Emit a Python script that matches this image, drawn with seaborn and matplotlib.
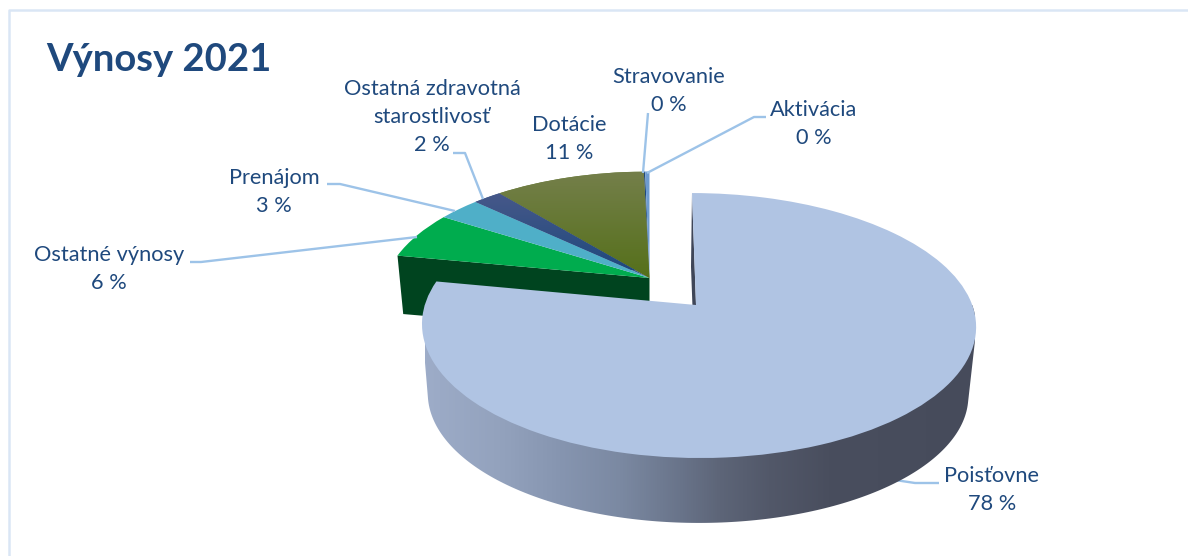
import numpy as np
import matplotlib
matplotlib.use("Agg")
import matplotlib.pyplot as plt
from matplotlib.colors import LinearSegmentedColormap
from matplotlib.patches import Polygon
from matplotlib.transforms import Transform
import seaborn as sns

# ---- data ----
categories = ["Poisťovne", "Ostatné výnosy", "Prenájom", "Ostatná zdravotná\nstarostlivosť",
              "Dotácie", "Stravovanie", "Aktivácia"]
values = [78.0, 6.0, 3.0, 2.0, 10.6, 0.1, 0.3]
percent_labels = ["78 %", "6 %", "3 %", "2 %", "11 %", "0 %", "0 %"]
title = "Výnosy 2021"
colors = ["#B0C4E3", "#00AC4E", "#4FAFC8", "#3A5A8E", "#677C35", "#1F497D", "#6D9BD0"]

# ---- layout ----
W, H = 1188, 556
label_pos = [(992, 490), (109, 269), (274, 192), (432, 117), (569, 139), (669, 91), (814, 124)]
leaders = [
    [(895, 480), (915, 483), (939, 483)],
    [(190, 262), (201, 262), (417, 237)],
    [(327, 184), (340, 184), (455, 211)],
    [(453, 153), (465, 153), (483, 199)],
    [(648, 113), (643, 173)],
    [(766, 117), (754, 117), (647, 173)],
]
wall_stops = [(425, "#9DACC8"), (500, "#93A2BD"), (560, "#8695B0"), (620, "#7B89A2"),
              (680, "#69748A"), (720, "#5D6578"), (770, "#525869"), (830, "#494E5E"),
              (975, "#464B5B")]


class Perspective(Transform):
    """Unit-circle pie coordinates -> pixel coordinates, with a foreshortened view."""
    input_dims = output_dims = 2
    is_separable = False
    has_inverse = False

    def __init__(self, x0, y0, a, b, p=0.155, k=0.0, s=0.0):
        super().__init__()
        self.par = (x0, y0, a, b, p, k, s)

    def transform_non_affine(self, xy):
        xy = np.asarray(xy, float)
        x0, y0, a, b, p, k, s = self.par
        u, v = xy[:, 0], xy[:, 1]
        w = 1 + p * v
        return np.column_stack([x0 + a * u / w + k * u ** 2 + s * v, y0 - b * v / w])


def rim(theta1, theta2, n=200):
    t = np.radians(np.linspace(theta1, theta2, n))
    return np.column_stack([np.cos(t), np.sin(t)])


def hull(points):
    pts = sorted(map(tuple, points))

    def half(seq):
        out = []
        for q in seq:
            while len(out) > 1 and ((out[-1][0] - out[-2][0]) * (q[1] - out[-2][1])
                                    - (out[-1][1] - out[-2][1]) * (q[0] - out[-2][0])) <= 0:
                out.pop()
            out.append(q)
        return out[:-1]

    return np.array(half(pts) + half(pts[::-1]))


sns.set_theme(style="white")
plt.rcParams["font.family"] = ["Lato", "DejaVu Sans"]

fig = plt.figure(figsize=(W / 100, H / 100), dpi=100, facecolor="white")
ax = fig.add_axes([0, 0, 1, 1])

wedges, _ = ax.pie(values, colors=colors, startangle=90, counterclock=False,
                   wedgeprops={"linewidth": 0})
ax.set_aspect("auto")
ax.axis("off")

big_top = Perspective(696, 305, 273.7, 129.3, k=2.5, s=-4)
big_low = Perspective(695, 375, 267, 125, k=2.5, s=-4)
small_top = Perspective(649.5, 278, 264, 123)
small_low = Perspective(649.5, 335, 258, 115)

for i, wd in enumerate(wedges):
    wd.set_transform((big_top if i == 0 else small_top) + ax.transData)
    wd.set_zorder(5)

# side wall of the large slice, shaded left to right
front = rim(-180, 0)
wall = Polygon(hull(np.vstack([big_top.transform(front), big_low.transform(front)])),
               closed=True, facecolor="none", edgecolor="none")
ax.add_patch(wall)
x_a, x_b = wall_stops[0][0], wall_stops[-1][0]
wall_cmap = LinearSegmentedColormap.from_list(
    "wall", [((x - x_a) / (x_b - x_a), c) for x, c in wall_stops])
im = ax.imshow(np.linspace(0, 1, 512)[None, :], extent=(x_a, x_b, H, 0), cmap=wall_cmap,
               aspect="auto", zorder=3)
im.set_clip_path(wall)

# cut face visible beside the large slice
w0 = wedges[0]
edge = rim(w0.theta2, w0.theta2, 1)
centre = np.array([[0.0, 0.0]])
ax.add_patch(Polygon(np.vstack([big_top.transform(edge), big_top.transform(centre),
                                big_low.transform(centre), big_low.transform(edge)]),
                     closed=True, facecolor="#3F4658", edgecolor="none", zorder=2))

# cut face of the group of small slices
g = wedges[1]
edge = rim(g.theta2, g.theta2, 1)
ax.add_patch(Polygon(np.vstack([small_top.transform(edge), small_top.transform(centre),
                                small_low.transform(centre), small_low.transform(edge)]),
                     closed=True, facecolor="#00441F", edgecolor="none", zorder=2))

# vertical shading on two top faces
for idx, shades, (ya, yb) in [(4, ["#747F4A", "#55701A"], (172, 278)),
                              (3, ["#48598A", "#1F497D"], (190, 270))]:
    cm = sns.blend_palette(shades, as_cmap=True)
    g_im = ax.imshow(np.linspace(0, 1, 128)[:, None], extent=(440, 660, yb, ya), cmap=cm,
                     aspect="auto", zorder=6)
    g_im.set_clip_path(wedges[idx])

ax.set_xlim(0, W)
ax.set_ylim(H, 0)

# chart frame: only its top and left borders fall inside the picture
ax.plot([W, 9, 9], [10, 10, H], color="#DAE6F5", linewidth=1.8, zorder=0)

# leader lines
for pts in leaders:
    xs, ys = zip(*pts)
    ax.plot(xs, ys, color="#9DC3E8", linewidth=1.7, zorder=2.5 if pts[0][0] == 895 else 7,
            solid_capstyle="butt")

# labels
for cat, pct, (x, y) in zip(categories, percent_labels, label_pos):
    ax.text(x, y, f"{cat}\n{pct}", ha="center", va="center", color="#1F497D",
            fontsize=15.7, linespacing=1.5, zorder=8)

ax.text(46, 71, title, ha="left", va="baseline", color="#1F497D", fontsize=27.5, fontweight="bold")

fig.savefig("out.png", dpi=100, facecolor="white")
